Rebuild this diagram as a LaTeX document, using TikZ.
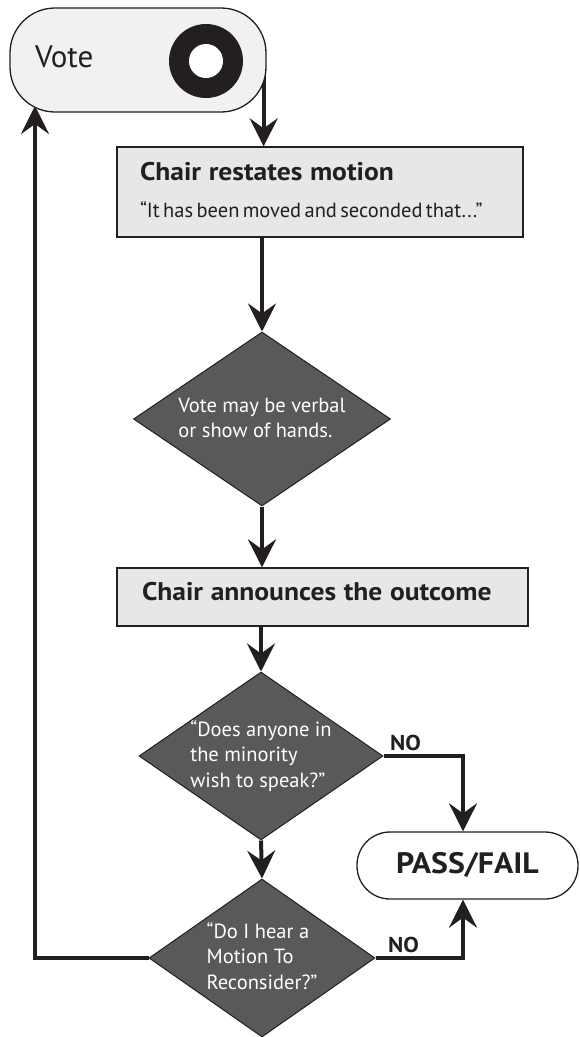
\documentclass[tikz,border=0pt]{standalone}
\usepackage{fontspec}
\setmainfont{PT Sans}[BoldFeatures={FakeStretch=1.08}]
\usetikzlibrary{shapes.geometric,arrows.meta,backgrounds,calc}
\definecolor{ink}{HTML}{231F20}
\definecolor{boxfill}{HTML}{E6E7E8}
\definecolor{votefill}{HTML}{F1F1F2}
\definecolor{diafill}{HTML}{58595B}
\newcommand{\bsz}[1]{\fontsize{#1}{#1}\bfseries\spaceskip=0.3em\relax}
\newcommand{\dtext}[1]{\smash{\raisebox{-6pt}{\makebox[0pt]{\fontsize{20.5}{25.5}\selectfont\begin{tabular}{@{}l@{}}#1\end{tabular}}}}}
\tikzset{
  conn/.style={line width=4pt, draw=ink, -{Stealth[length=28pt,width=28pt,inset=10pt]}},
  procbox/.style={rectangle, draw=ink, line width=1.3pt, fill=boxfill, inner sep=0pt, align=left, text=ink},
  dia/.style={diamond, draw=ink, line width=1pt, fill=diafill, inner sep=0pt, text=white},
  term/.style={rectangle, draw=ink, line width=1.3pt, inner sep=0pt, text=ink},
  nolabel/.style={font=\bsz{21.5}, anchor=base west, text=ink, inner sep=0pt}
}
\begin{document}
\begin{tikzpicture}[x=1pt,y=-1pt]
\useasboundingbox (0,0) rectangle (580,1037);

% Vote terminal
\node[term, fill=votefill, rounded corners=45pt, minimum width=256pt, minimum height=104pt,
      text width=206pt, align=left, text height=59pt, text depth=45pt,
      font=\fontsize{31}{31}\selectfont] (vote) at (138,60) {Vote};
\fill[ink] ($(vote.center)+(68,1)$) circle (37pt);
\fill[white] ($(vote.center)+(68,1)$) circle (17pt);

% Chair restates motion
\node[procbox, minimum width=406pt, minimum height=90pt, text width=360pt,
      text height=33pt, text depth=57pt] (box1) at (320,192)
  {{\bsz{25.5}Chair restates motion\par}%
   {\fontsize{20.5}{37}\selectfont “It has been moved and seconded that...”\par}};

% Diamond 1
\node[dia, minimum width=257pt, minimum height=174pt] (d1) at (262,419)
  {\dtext{Vote may be verbal\\or show of hands.}};

% Chair announces the outcome
\node[procbox, minimum width=411pt, minimum height=58pt, text width=361pt,
      text height=32pt, text depth=26pt] (box2) at (322.5,597)
  {\bsz{25.5}Chair announces the outcome};

% Diamond 2
\node[dia, minimum width=244pt, minimum height=168pt] (d2) at (261,756)
  {\dtext{“Does anyone in\\the minority\\wish to speak?”}};

% Diamond 3
\node[dia, minimum width=226pt, minimum height=158pt] (d3) at (262,958)
  {\dtext{“Do I hear a\\Motion To\\Reconsider?”}};

% PASS/FAIL
\node[term, fill=white, rounded corners=33pt, minimum width=221pt, minimum height=67pt,
      font=\bsz{29.5}] (pf) at (467.5,865.5) {PASS/FAIL};

\coordinate (vin) at (35,106);

\node[nolabel] (no1) at (390,750) {NO};
\node[nolabel] (no2) at (388,952) {NO};

\begin{scope}[on background layer]
\draw[conn] ([xshift=-3pt]vote.east) -- ([xshift=-3pt]vote.east |- box1.north);
\draw[conn] (d1.north |- box1.south) -- (d1.north);
\draw[conn] (d1.south) -- (d1.south |- box2.north);
\draw[conn] (d2.north |- box2.south) -- (d2.north);
\draw[conn] (d2.south) -- (d3.north);
\draw[conn] (d2.east) -| ([xshift=-4.5pt]pf.north);
\draw[conn] (d3.east) -| ([xshift=-4.5pt]pf.south);
\draw[conn] (d3.west) -| (vin);
\end{scope}
\end{tikzpicture}
\end{document}
